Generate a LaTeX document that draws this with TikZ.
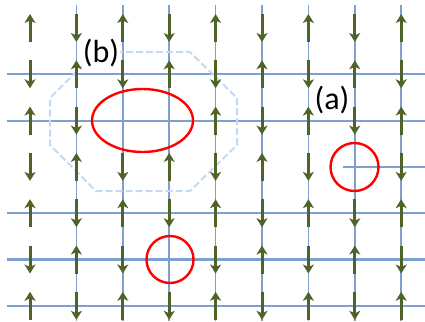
\documentclass[tikz,border=0pt]{standalone}
\usepackage{fontspec}
\setmainfont{Carlito}
\usetikzlibrary{arrows.meta}

\definecolor{spingreen}{RGB}{79,98,40}
\definecolor{gridblue}{RGB}{125,160,208}
\definecolor{paleblue}{RGB}{198,217,241}

\begin{document}
\begin{tikzpicture}[
		x=1pt, y=-1pt,
		gridline/.style={draw=gridblue, line width=#1},
		gridline/.default=1.6pt,
		spin/.style={draw=spingreen, line width=3pt, -{Stealth[length=9pt, width=11pt, inset=2.5pt]}},
		mark ring/.style={draw=red, line width=2.4pt},
		region/.style={draw=paleblue, line width=2pt, dash pattern=on 7pt off 3pt},
		tag/.style={font=\fontsize{32}{32}\selectfont, inner sep=1pt}
		]
		\useasboundingbox (0,0) rectangle (425,321);
		
		%==================== Lattice ====================%
		\foreach \i in {2,...,9}
			\draw[gridline] (46.4*\i-16.4,5) -- (46.4*\i-16.4,321);
		\foreach \j in {2,3,5,6,7}
			\draw[gridline=2.2pt] (7,46.3*\j-18.3) -- (425,46.3*\j-18.3);
		\draw[gridline=2.2pt] (343,167) -- (425,167);
		
		%==================== Cluster (b) ====================%
		\draw[region] (96,52) -- (190,52) -- (237,98) -- (237,145) -- (190,191)
			-- (96,191) -- (50,145) -- (50,98) -- cycle;
		\node[tag, fill=white] (labelb) at (101,53) {(b)};
		
		%==================== Spins ====================%
		\foreach \i in {1,...,9}{
			\foreach \j in {1,...,7}{
				\pgfmathtruncatemacro{\hole}{(\i==3 && \j==3) || (\i==4 && \j==3) || (\i==8 && \j==4) || (\i==4 && \j==6)}
				\ifnum\hole=0
					\pgfmathtruncatemacro{\parity}{mod(\i+\j,2)}
					\ifnum\parity=0
						\draw[spin] (46.4*\i-16.4,46.3*\j-18.3+14) -- ++(0,-28);
					\else
						\draw[spin] (46.4*\i-16.4,46.3*\j-18.3-14) -- ++(0,28);
					\fi
				\fi
			}
		}
		
		%==================== Defects ====================%
		\draw[mark ring] (142.5,120.5) ellipse [x radius=50.5, y radius=31.5];
		\draw[mark ring] (354.5,167) circle [radius=24];
		\draw[mark ring] (170,259.5) circle [radius=23.5];
		
		\node[tag] (labela) at (332,100) {(a)};
		
	\end{tikzpicture}
\end{document}
